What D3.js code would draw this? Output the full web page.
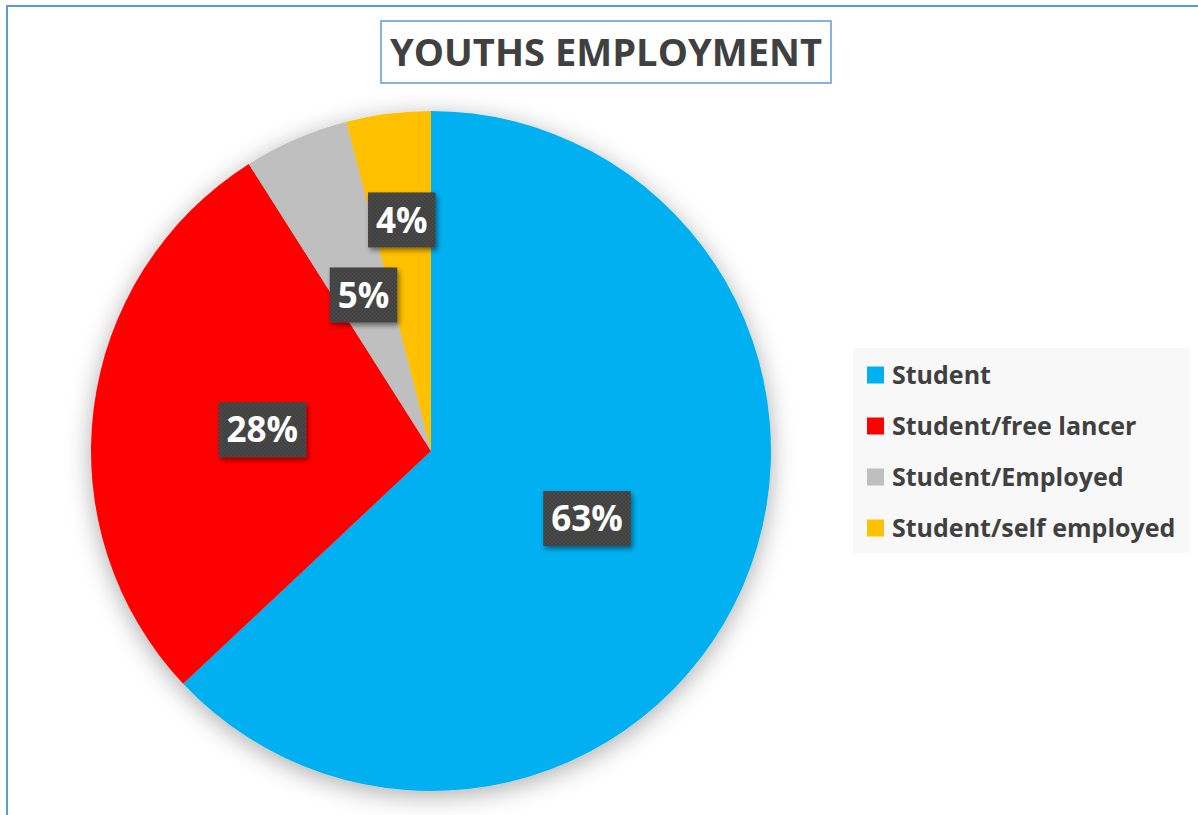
<!DOCTYPE html>
<html>
<head>
<meta charset="utf-8">
<script src="https://cdn.jsdelivr.net/npm/d3@7"></script>
<style>
  html, body { margin: 0; padding: 0; background: #ffffff; }
  svg { display: block; }
</style>
</head>
<body>
<svg id="chart" width="1198" height="815"></svg>
<script>
// Survey of youths: employment status
const chartTitle = "YOUTHS EMPLOYMENT";
const categories = ["Student", "Student/free lancer", "Student/Employed", "Student/self employed"];
const values = [63, 28, 5, 4];
const colors = ["#00B0F0", "#FF0000", "#BFBFBF", "#FFC000"];

const W = 1198, H = 815;
const svg = d3.select("#chart");
const FONT = "'Open Sans', 'Liberation Sans', sans-serif";
const TEXT_COLOR = "#404040";

const defs = svg.append("defs");

// soft halo under the pie
const pieShadow = defs.append("filter").attr("id", "pieShadow")
  .attr("x", "-20%").attr("y", "-20%").attr("width", "140%").attr("height", "140%");
pieShadow.append("feDropShadow")
  .attr("dx", 0).attr("dy", 5).attr("stdDeviation", 12)
  .attr("flood-color", "#000").attr("flood-opacity", 0.32);

// shadow for the value tags
const tagShadow = defs.append("filter").attr("id", "tagShadow")
  .attr("x", "-30%").attr("y", "-30%").attr("width", "160%").attr("height", "160%");
tagShadow.append("feDropShadow")
  .attr("dx", 2).attr("dy", 3).attr("stdDeviation", 2.5)
  .attr("flood-color", "#000").attr("flood-opacity", 0.45);

// fine dotted texture on the value tags
const dots = defs.append("pattern").attr("id", "dots")
  .attr("width", 4).attr("height", 4).attr("patternUnits", "userSpaceOnUse");
dots.append("rect").attr("width", 4).attr("height", 4).attr("fill", "#404040");
dots.append("circle").attr("cx", 1).attr("cy", 1).attr("r", 0.7).attr("fill", "#575757");
dots.append("circle").attr("cx", 3).attr("cy", 3).attr("r", 0.7).attr("fill", "#575757");

// outer chart frame (open at right and bottom edges of the page)
svg.append("rect")
  .attr("x", 7).attr("y", 6).attr("width", W + 20).attr("height", H + 20)
  .attr("fill", "#ffffff").attr("stroke", "#5B9BD5").attr("stroke-width", 2);

// pie
const cx = 431, cy = 451, R = 340;
const pie = d3.pie().sort(null).value(d => d.value);
const data = pie(categories.map((c, i) => ({ name: c, value: values[i], color: colors[i] })));
const arc = d3.arc().innerRadius(0).outerRadius(R);

const gPie = svg.append("g").attr("transform", `translate(${cx},${cy})`);
gPie.append("g").attr("filter", "url(#pieShadow)")
  .selectAll("path").data(data).join("path")
  .attr("d", arc)
  .attr("fill", d => d.data.color);

// value tags; the smallest slice's tag sits further out
const labelRadius = d => (d.endAngle - d.startAngle) < 0.27 ? R * 0.685 : R * 0.5;
const labelFont = 35;
const tags = gPie.selectAll("g.tag").data(data).join("g")
  .attr("class", "tag")
  .attr("transform", d => {
    const a = (d.startAngle + d.endAngle) / 2;
    const r = labelRadius(d);
    return `translate(${r * Math.sin(a)},${-r * Math.cos(a)})`;
  });

tags.each(function(d) {
  const g = d3.select(this);
  const t = g.append("text")
    .attr("text-anchor", "middle")
    .attr("dy", "0.36em")
    .attr("font-family", FONT).attr("font-weight", 700)
    .attr("font-size", labelFont).attr("fill", "#ffffff")
    .text(d.data.value + "%");
  const w = t.node().getComputedTextLength() + 16;
  const h = 55;
  g.insert("rect", "text")
    .attr("x", -w / 2).attr("y", -h / 2).attr("width", w).attr("height", h)
    .attr("fill", "url(#dots)")
    .attr("filter", "url(#tagShadow)");
});

// title box
const titleG = svg.append("g");
const titleBox = { x: 381, y: 21, w: 450, h: 62 };
titleG.append("rect")
  .attr("x", titleBox.x).attr("y", titleBox.y)
  .attr("width", titleBox.w).attr("height", titleBox.h)
  .attr("fill", "#ffffff").attr("stroke", "#5B9BD5").attr("stroke-width", 1.5);
titleG.append("text")
  .attr("x", titleBox.x + titleBox.w / 2).attr("y", titleBox.y + titleBox.h / 2)
  .attr("dy", "0.36em")
  .attr("text-anchor", "middle")
  .attr("font-family", FONT).attr("font-weight", 700)
  .attr("font-size", 38).attr("fill", TEXT_COLOR)
  .attr("textLength", 432).attr("lengthAdjust", "spacingAndGlyphs")
  .text(chartTitle);

// legend
const legend = svg.append("g");
legend.append("rect")
  .attr("x", 853).attr("y", 348).attr("width", 337).attr("height", 205)
  .attr("fill", "#f8f8f8");
const rowY = d3.scalePoint().domain(categories).range([375, 528]);
const items = legend.selectAll("g.item").data(categories).join("g")
  .attr("class", "item")
  .attr("transform", d => `translate(867,${rowY(d)})`);
items.append("rect")
  .attr("x", 0).attr("y", -8.5).attr("width", 17).attr("height", 17)
  .attr("fill", (d, i) => colors[i]);
items.append("text")
  .attr("x", 25).attr("dy", "0.36em")
  .attr("font-family", FONT).attr("font-weight", 700)
  .attr("font-size", 25).attr("fill", TEXT_COLOR)
  .text(d => d);
</script>
</body>
</html>
